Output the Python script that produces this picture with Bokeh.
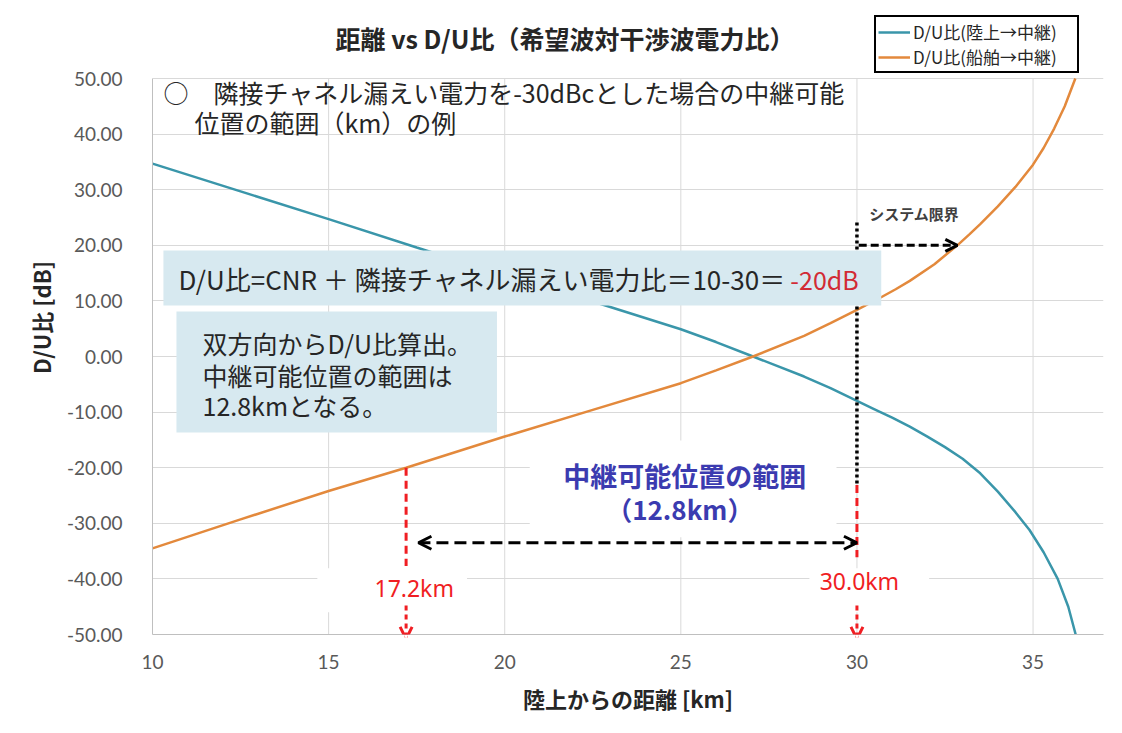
from bokeh.plotting import figure
from bokeh.models import (Range1d, FixedTicker, NumeralTickFormatter, Label,
                          BoxAnnotation, Arrow, OpenHead, Legend, LegendItem)
from bokeh.embed import file_html
from bokeh.resources import INLINE

# ---------------- data ----------------
series_names = ["D/U比(陸上→中継)", "D/U比(船舶→中継)"]

dist_land = [10, 12.5, 15, 17.5, 20, 22.5, 25, 26, 27.05, 28.5, 29.25, 30, 30.5, 31,
             31.5, 32, 32.5, 33, 33.5, 34, 34.5, 34.9, 35.3, 35.7, 36.0, 36.21]
du_land = [34.7, 29.7, 24.7, 19.6, 14.6, 9.9, 4.9, 2.6, 0.0, -3.6, -5.7, -8.0, -9.5,
           -11.0, -12.6, -14.4, -16.3, -18.4, -21.0, -24.3, -28.0, -31.2, -35.2,
           -40.0, -45.0, -50.0]

dist_ship = [10, 12.5, 15, 17.2, 20, 22.5, 25, 26, 27.05, 28.5, 29.25, 30, 30.7, 31.1,
             31.5, 32.2, 32.85, 33.2, 33.5, 34.0, 34.5, 35.0, 35.3, 35.6, 35.9, 36.2]
du_ship = [-34.5, -29.3, -24.2, -20.0, -14.4, -9.6, -4.8, -2.5, 0.0, 3.7, 6.0, 8.4,
           10.7, 12.1, 13.6, 16.6, 20.0, 22.0, 23.8, 27.0, 30.5, 34.5, 37.5, 41.0,
           45.0, 50.0]

x_ticks = [10, 15, 20, 25, 30, 35]
y_ticks = [-50, -40, -30, -20, -10, 0, 10, 20, 30, 40, 50]

range_start_km = 17.2
range_end_km = 30.0
required_du = -20
system_limit_du = 20

JP = "Noto Sans CJK JP"
LAT = "Lato"
BLUE = "#3A96AA"
ORANGE = "#E3893C"
RED = "#F01E23"
BOXC = "#D7E9F0"
GRID = "#D9D9D9"

Y_MIN, Y_MAX = y_ticks[0], y_ticks[-1]

p = figure(width=1122, height=733, x_range=Range1d(10, 37), y_range=Range1d(Y_MIN, 64.03),
           output_backend="svg", toolbar_location=None,
           min_border_left=152, min_border_right=19, min_border_top=0, min_border_bottom=99)
p.outline_line_color = None
p.background_fill_color = "white"
p.border_fill_color = "white"

# axes
p.xaxis.ticker = FixedTicker(ticks=x_ticks)
p.yaxis.ticker = FixedTicker(ticks=y_ticks)
p.yaxis.formatter = NumeralTickFormatter(format="0.00")
p.yaxis.bounds = (Y_MIN, Y_MAX)
for ax in (p.xaxis[0], p.yaxis[0]):
    ax.major_tick_out = 0
    ax.major_tick_in = 0
    ax.minor_tick_out = 0
    ax.minor_tick_in = 0
    ax.axis_line_color = "#BFBFBF"
    ax.major_label_text_font = LAT
    ax.major_label_text_font_size = "19px"
    ax.major_label_text_color = "#595959"
    ax.axis_label_text_font = JP
    ax.axis_label_text_font_style = "bold"
    ax.axis_label_text_font_size = "22px"
    ax.axis_label_text_color = "#262626"
p.xaxis.axis_label = "陸上からの距離 [km]"
p.yaxis.axis_label = "D/U比 [dB]"
p.xaxis.major_label_standoff = 20
p.yaxis.major_label_standoff = 30
p.xaxis.axis_label_standoff = 10
p.yaxis.axis_label_standoff = 7

# gridlines: horizontal via Grid, vertical drawn only inside the value area
p.xgrid.visible = False
p.ygrid.ticker = FixedTicker(ticks=y_ticks)
p.ygrid.grid_line_color = GRID
p.ygrid.grid_line_width = 1
vx = x_ticks[1:]
p.segment(x0=vx, y0=[Y_MIN] * len(vx), x1=vx, y1=[Y_MAX] * len(vx),
          line_color=GRID, line_width=1, level="image")

# white masks behind the centre labels (hide gridlines)
for l, r, b, t in [(20.71, 29.42, -32.5, -15.1), (14.68, 18.93, -46.0, -38.1),
                   (28.65, 32.05, -46.0, -38.1)]:
    p.add_layout(BoxAnnotation(left=l, right=r, bottom=b, top=t, fill_color="white",
                               fill_alpha=1, line_color=None, level="underlay"))

# curves
r_land = p.line(dist_land, du_land, line_color=BLUE, line_width=2.5)
r_ship = p.line(dist_ship, du_ship, line_color=ORANGE, line_width=2.5)

# dotted system-limit line and red dashed range lines
p.segment(x0=[range_end_km], y0=[24.1], x1=[range_end_km], y1=[-23.1],
          line_color="black", line_width=3.5, line_dash="3 3")
p.segment(x0=[range_end_km], y0=[-23.1], x1=[range_end_km], y1=[-36.1],
          line_color=RED, line_width=3, line_dash="8 5")
p.segment(x0=[range_start_km], y0=[required_du], x1=[range_start_km], y1=[-37.7],
          line_color=RED, line_width=3, line_dash="8 5")

# light blue boxes
p.add_layout(BoxAnnotation(left=10.31, right=30.69, bottom=9.17, top=19.07,
                           fill_color=BOXC, fill_alpha=1, line_color=None))
p.add_layout(BoxAnnotation(left=10.68, right=19.78, bottom=-13.67, top=8.09,
                           fill_color=BOXC, fill_alpha=1, line_color=None))

# arrows
p.add_layout(Arrow(x_start=17.55, y_start=-33.5, x_end=range_end_km, y_end=-33.5,
                   start=OpenHead(size=13, line_width=3, line_color="black"),
                   end=OpenHead(size=13, line_width=3, line_color="black"),
                   line_color="black", line_width=3, line_dash="12 6"))
p.add_layout(Arrow(x_start=30.05, y_start=system_limit_du, x_end=32.85, y_end=system_limit_du,
                   end=OpenHead(size=12, line_width=3, line_color="black"),
                   line_color="black", line_width=3, line_dash="8 4"))
for xk in (range_start_km, range_end_km):
    p.add_layout(Arrow(x_start=xk, y_start=-44.8, x_end=xk, y_end=-50.8,
                       end=OpenHead(size=12, line_width=3, line_color=RED),
                       line_color=RED, line_width=3, line_dash="5 4"))

# texts
def lab(x, y, text, size, color="black", font=JP, align="left", style="normal"):
    p.add_layout(Label(x=x, y=y, text=text, text_font=font, text_font_size=size,
                       text_color=color, text_align=align, text_baseline="middle",
                       text_font_style=style))

lab(21.71, 57.2, "距離 vs D/U比（希望波対干渉波電力比）", "25px", "#262626", align="center", style="bold")
lab(10.31, 47.5, "○　隣接チャネル漏えい電力を-30dBcとした場合の中継可能", "25px", "#262626")
lab(11.19, 42.1, "位置の範囲（km）の例", "25px", "#262626")
lab(27.97, 14.0, "D/U比=CNR ＋ 隣接チャネル漏えい電力比＝10-30＝", "26px", "#262626", align="right")
lab(28.11, 14.0, "-20dB", "25px", "#D22B35")
lab(11.42, 2.34, "双方向からD/U比算出。", "25px", "#262626")
lab(11.42, -3.24, "中継可能位置の範囲は", "25px", "#262626")
lab(11.42, -8.81, "12.8kmとなる。", "25px", "#262626")
lab(25.11, -21.4, "中継可能位置の範囲", "27px", "#3B3BB0", align="center", style="bold")
lab(24.97, -27.3, "（12.8km）", "26px", "#3B3BB0", align="center", style="bold")
lab(17.43, -41.7, "17.2km", "23px", RED, font="Noto Sans", align="center")
lab(30.07, -40.3, "30.0km", "23px", RED, font="Noto Sans", align="center")
lab(30.35, 25.7, "システム限界", "15px", "#404040", style="bold")

legend = Legend(items=[LegendItem(label=series_names[0], renderers=[r_land]),
                       LegendItem(label=series_names[1], renderers=[r_ship])],
                location=(722, 561), orientation="vertical",
                border_line_color="black", border_line_width=2, border_line_alpha=1.0,
                padding=2, spacing=0, margin=0, glyph_width=32, glyph_height=20,
                label_height=20, label_width=162, label_standoff=3,
                label_text_font=JP, label_text_font_size="17px",
                label_text_color="#262626", background_fill_alpha=1)
legend.padding = 2
p.add_layout(legend)

open("out.html", "w").write(file_html(p, INLINE))
